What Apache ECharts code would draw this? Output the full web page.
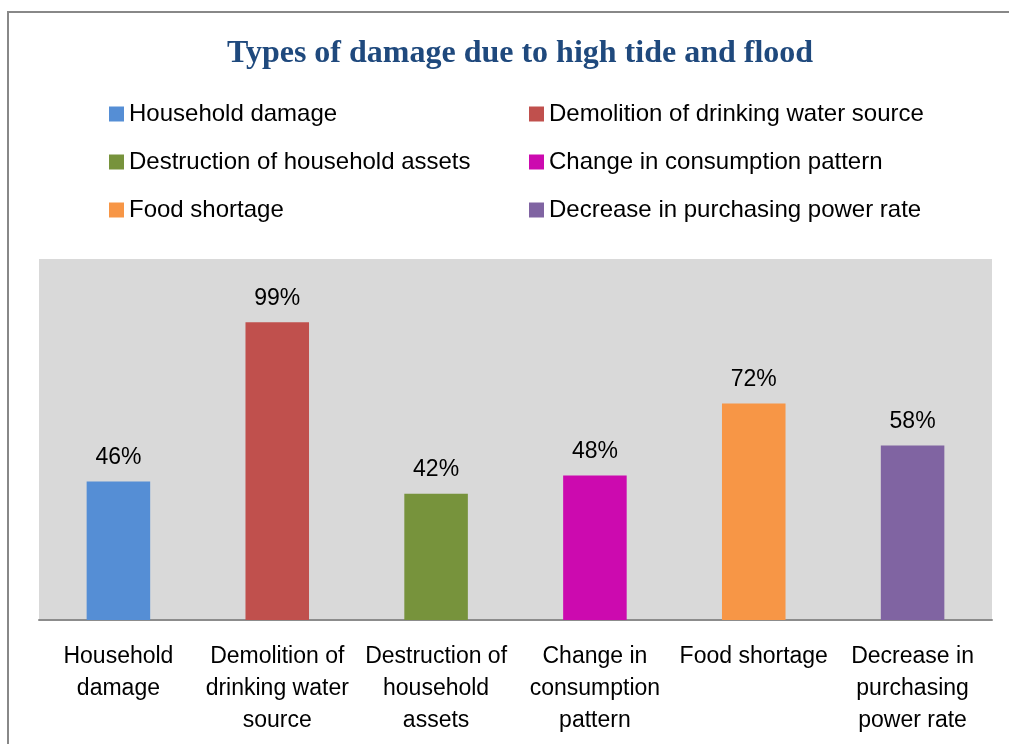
<!DOCTYPE html>
<html>
<head>
<meta charset="utf-8">
<script src="https://cdn.jsdelivr.net/npm/echarts@6/dist/echarts.min.js"></script>
<style>
  html, body { margin: 0; padding: 0; background: #fff; }
  #mainChart { width: 1009px; height: 744px; }
</style>
</head>
<body>
<div id="mainChart"></div>
<script>
// categories (legend names) and tick labels as they wrap under the axis
var categories = [
    "Household damage",
    "Demolition of drinking water source",
    "Destruction of household assets",
    "Change in consumption pattern",
    "Food shortage",
    "Decrease in purchasing power rate"
];
var tickLabels = [
    "Household\ndamage",
    "Demolition of\ndrinking water\nsource",
    "Destruction of\nhousehold\nassets",
    "Change in\nconsumption\npattern",
    "Food shortage",
    "Decrease in\npurchasing\npower rate"
];
var values = [46, 99, 42, 48, 72, 58];
var colors = ["#558ed5", "#c0504d", "#77933c", "#cc0aaf", "#f79646", "#8064a2"];

var font = "'Liberation Sans', Arial, sans-serif";

function $each(arr, fn) {
    for (var k = 0; k < arr.length; k++) fn(k, arr[k]);
}

// one series per category so the legend can list them, stacked to stay centred
var series = [];
$each(categories, function (i, name) {
    var data = [];
    for (var j = 0; j < categories.length; j++) {
        data.push(j == i ? values[i] : "-");
    }
    series.push({
        name: name,
        type: "bar",
        stack: "all",
        barWidth: "40%",
        itemStyle: { color: colors[i] },
        label: {
            show: true,
            position: "top",
            distance: 12,
            formatter: "{c}%",
            color: "#000",
            fontFamily: font,
            fontSize: 23
        },
        data: data
    });
});

var legendBase = {
    orient: "vertical",
    icon: "rect",
    itemWidth: 15,
    itemHeight: 15,
    itemGap: 22,
    top: 96,
    textStyle: { fontFamily: font, fontSize: 24, color: "#000", lineHeight: 26 },
    selectedMode: false
};

var chart = echarts.init(document.getElementById("mainChart"));
chart.setOption({
    animation: false,
    title: {
        text: "Types of damage due to high tide and flood",
        left: 515,
        textAlign: "center",
        top: 33,
        textStyle: {
            fontFamily: "'Liberation Serif', 'Times New Roman', serif",
            fontWeight: "bold",
            fontSize: 32,
            color: "#1f497d"
        }
    },
    legend: [
        Object.assign({}, legendBase, {
            left: 104,
            data: [categories[0], categories[2], categories[4]]
        }),
        Object.assign({}, legendBase, {
            left: 524,
            data: [categories[1], categories[3], categories[5]]
        })
    ],
    graphic: [{
        type: "rect",
        shape: { x: 8, y: 12, width: 1010, height: 740 },
        style: { fill: "none", stroke: "#888", lineWidth: 2 },
        silent: true
    }],
    grid: {
        left: 39,
        right: 17,
        top: 259,
        bottom: 124,
        show: true,
        backgroundColor: "#d9d9d9",
        borderWidth: 0
    },
    xAxis: {
        type: "category",
        data: tickLabels,
        axisLine: { lineStyle: { color: "#8c8c8c", width: 2 } },
        axisTick: { show: false },
        axisLabel: {
            interval: 0,
            margin: 21,
            color: "#000",
            fontFamily: font,
            fontSize: 23,
            lineHeight: 32
        }
    },
    yAxis: {
        type: "value",
        min: 0,
        max: 120,
        interval: 20,
        show: false,
        splitLine: { show: false }
    },
    series: series
});
</script>
</body>
</html>
